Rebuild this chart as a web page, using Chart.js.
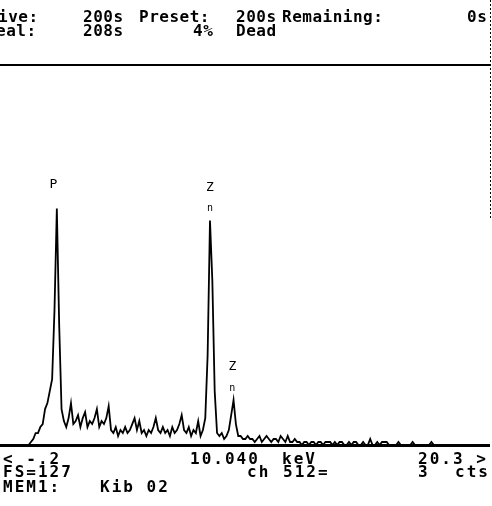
<!DOCTYPE html>
<html>
<head>
<meta charset="utf-8">
<script src="https://cdn.jsdelivr.net/npm/chart.js@4"></script>
<style>
  body { margin: 0; background: #fff; }
  .wrap { position: relative; width: 492px; height: 506px; overflow: hidden; }
  canvas { position: absolute; left: 0; top: 0; }
  .t { position: absolute; font-family: "DejaVu Sans Mono", monospace; font-weight: bold;
       font-size: 16px; line-height: 16px; color: #000; white-space: pre; letter-spacing: 0.5px; }
  .f { letter-spacing: 2px; }
</style>
</head>
<body>
<div class="wrap">
  <canvas id="spec" width="492" height="506"></canvas>
  <div class="t" style="left:-2px;top:9px">ive:</div>
  <div class="t" style="left:83px;top:9px">200s</div>
  <div class="t" style="left:139px;top:9px">Preset:</div>
  <div class="t" style="left:236px;top:9px">200s</div>
  <div class="t" style="left:282px;top:9px">Remaining:</div>
  <div class="t" style="left:467px;top:9px">0s</div>
  <div class="t" style="left:-4px;top:23px">eal:</div>
  <div class="t" style="left:83px;top:23px">208s</div>
  <div class="t" style="left:193px;top:23px">4%</div>
  <div class="t" style="left:236px;top:23px">Dead</div>

  <div class="t f" style="left:3px;top:451px">&lt; -.2</div>
  <div class="t f" style="left:190px;top:451px">10.040</div>
  <div class="t f" style="left:282px;top:451px">keV</div>
  <div class="t f" style="left:418px;top:451px">20.3 &gt;</div>
  <div class="t f" style="left:3px;top:464px">FS=127</div>
  <div class="t f" style="left:247px;top:464px">ch</div>
  <div class="t f" style="left:283px;top:464px">512=</div>
  <div class="t f" style="left:418px;top:464px">3</div>
  <div class="t f" style="left:455px;top:464px">cts</div>
  <div class="t f" style="left:3px;top:479px">MEM1:</div>
  <div class="t f" style="left:100px;top:479px">Kib 02</div>
</div>
<script>
// spectrum channels, 0.1 keV wide, starting at -0.2 keV
const keVStart = -0.2;
const keVStep = 0.1;
const counts = [
  0, 0, 0, 0, 0, 0, 0, 0, 0, 0, 0, 1,
  2, 4, 4, 6, 7, 12, 14, 18, 22, 45,
  79, 40, 12, 8, 6, 9, 14, 7, 8, 10,
  6, 9, 11, 6, 8, 7, 9, 12, 6, 8,
  7, 9, 13, 5, 4, 6, 3, 5, 4, 6,
  4, 5, 7, 9, 5, 8, 4, 5, 3, 5,
  4, 6, 9, 5, 4, 6, 4, 5, 3, 6,
  4, 5, 7, 10, 5, 4, 6, 3, 5, 4,
  8, 3, 5, 9, 30, 75, 55, 18, 4, 3,
  4, 2, 3, 5, 10, 15, 7, 3, 3, 2,
  2, 3, 2, 2, 1, 2, 3, 1, 2, 3,
  2, 1, 2, 2, 1, 3, 2, 1, 3, 1,
  1, 2, 1, 1, 0, 1, 1, 0, 1, 1,
  0, 1, 1, 0, 1, 1, 1, 0, 1, 0,
  1, 1, 0, 0, 1, 0, 1, 1, 0, 0,
  1, 0, 0, 2, 0, 0, 1, 0, 1, 1,
  1, 0, 0, 0, 0, 1, 0, 0, 0, 0,
  0, 1, 0, 0, 0, 0, 0, 0, 0, 1,
  0, 0, 0, 0, 0, 0, 0, 0, 0, 0,
  0, 0, 0, 0, 0, 0, 0, 0, 0, 0,
  0, 0, 0, 0
];
const fullScale = 127;
const rangeStart = -0.2;
const rangeEnd = 20.3;

// peak markers: element label lines and energy / height (counts)
const peakLabels = [
  { lines: ['P'], keV: 1.85, cts: 85 },
  { lines: ['Z', 'n'], keV: 8.5, cts: 84 },
  { lines: ['Z', 'n'], keV: 9.45, cts: 24 }
];

const points = counts.map((c, i) => ({ x: +(keVStart + i * keVStep).toFixed(2), y: c }));

const screenPlugin = {
  id: 'screen',
  afterDraw(chart) {
    const ctx = chart.ctx;
    const xs = chart.scales.x, ys = chart.scales.y;
    const area = chart.chartArea;
    ctx.save();
    ctx.fillStyle = '#000';
    // top rule
    ctx.fillRect(0, area.top - 1, 490, 2);
    // baseline
    ctx.fillRect(0, area.bottom - 1, 490, 3);
    // right dotted edge
    ctx.strokeStyle = '#000';
    ctx.lineWidth = 1;
    ctx.setLineDash([2, 2]);
    ctx.beginPath();
    ctx.moveTo(490.5, 0);
    ctx.lineTo(490.5, 220);
    ctx.stroke();
    ctx.setLineDash([]);
    // peak labels
    ctx.textAlign = 'center';
    ctx.textBaseline = 'bottom';
    peakLabels.forEach(p => {
      const x = xs.getPixelForValue(p.keV);
      const y = ys.getPixelForValue(p.cts);
      p.lines.forEach((s, k) => {
        ctx.font = k > 0 ? '10px "DejaVu Sans Mono", monospace' : '13px "DejaVu Sans Mono", monospace';
        ctx.fillText(s, x, y + k * 20);
      });
    });
    ctx.restore();
  }
};

new Chart(document.getElementById('spec'), {
  type: 'line',
  data: {
    datasets: [{
      label: 'Kib 02',
      data: points,
      borderColor: '#000',
      borderWidth: 1.8,
      pointRadius: 0,
      tension: 0,
      fill: false
    }]
  },
  options: {
    responsive: false,
    animation: false,
    layout: { padding: { left: 5, right: 4, top: 65, bottom: 61 } },
    plugins: { legend: { display: false }, tooltip: { enabled: false } },
    scales: {
      x: { type: 'linear', min: rangeStart, max: rangeEnd, display: false },
      y: { min: 0, max: fullScale, display: false }
    }
  },
  plugins: [screenPlugin]
});
</script>
</body>
</html>
